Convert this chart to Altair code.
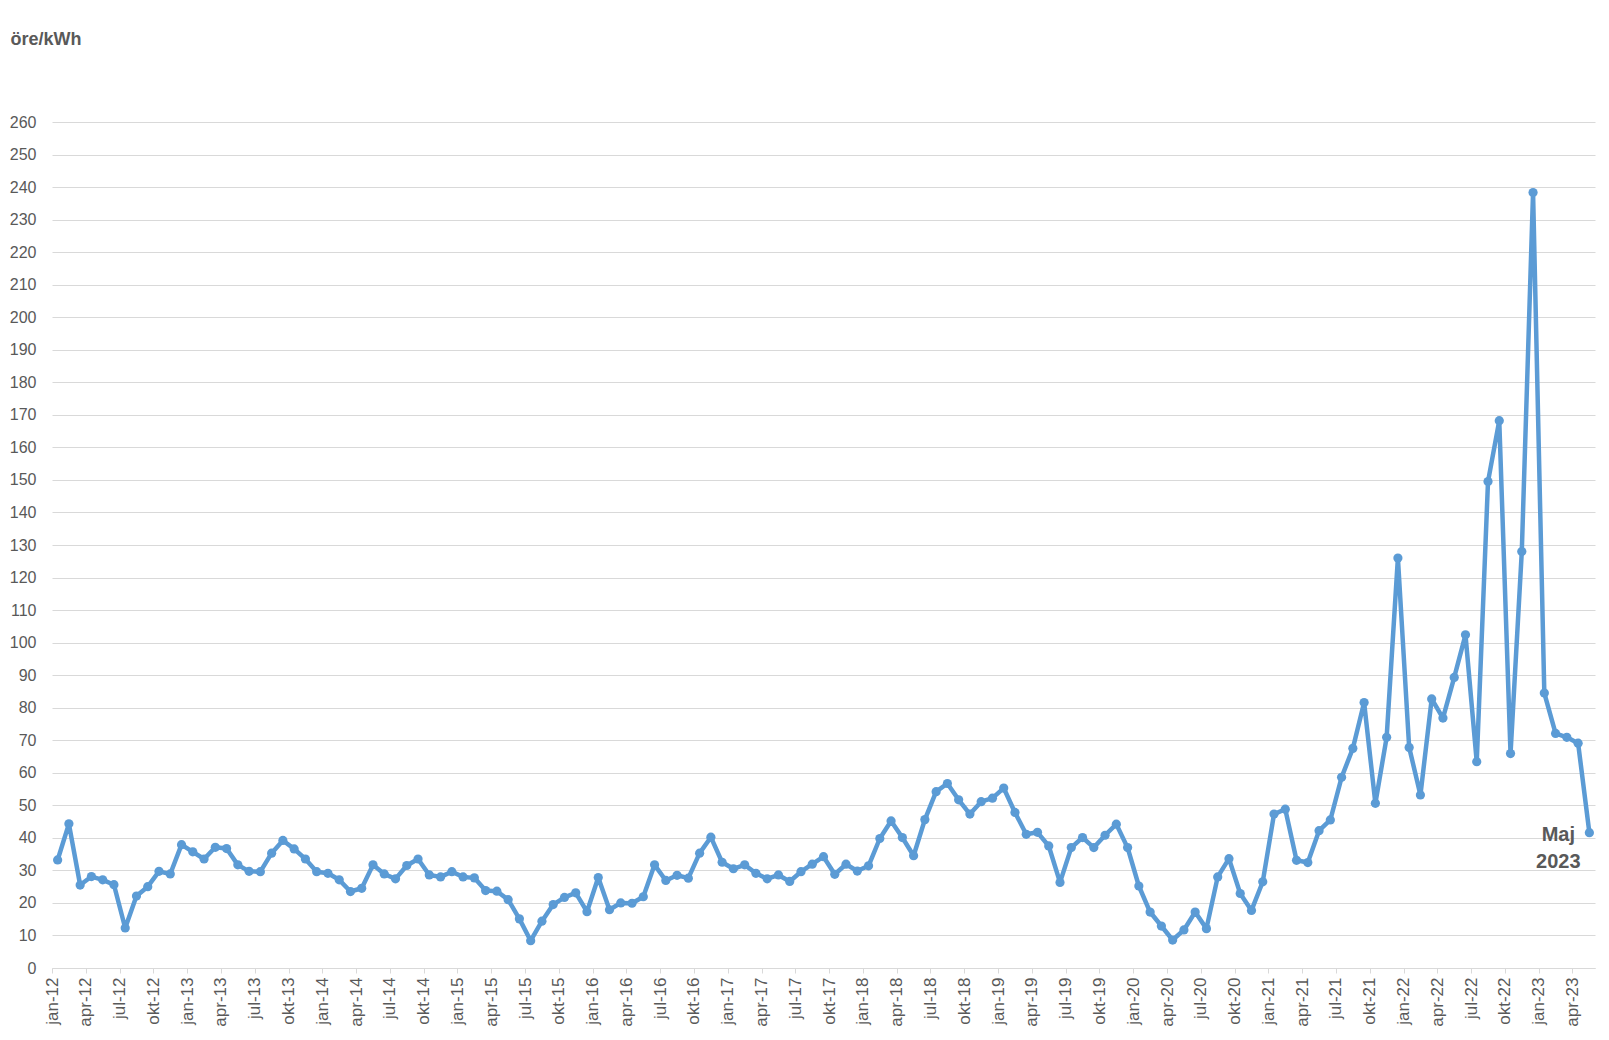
import json
import altair as alt
import pandas as pd

# Monthly price, öre/kWh, jan-2012 .. maj-2023
values = [
    # 2012
    33.2, 44.3, 25.5, 28.1, 27.1, 25.6, 12.3, 22.1, 25.0, 29.7, 28.9, 37.9,
    # 2013
    35.7, 33.5, 37.1, 36.7, 31.7, 29.7, 29.6, 35.3, 39.2, 36.6, 33.5, 29.6,
    # 2014
    29.1, 27.1, 23.5, 24.5, 31.7, 28.9, 27.4, 31.5, 33.5, 28.6, 28.0, 29.6,
    # 2015
    28.0, 27.7, 23.8, 23.6, 21.0, 15.1, 8.4, 14.4, 19.5, 21.7, 23.1, 17.3,
    # 2016
    27.8, 17.9, 20.0, 19.9, 21.9, 31.7, 26.9, 28.5, 27.6, 35.3, 40.2, 32.5,
    # 2017
    30.5, 31.7, 29.1, 27.4, 28.6, 26.6, 29.6, 31.9, 34.2, 28.8, 31.9, 29.8,
    # 2018
    31.4, 39.8, 45.2, 40.1, 34.5, 45.6, 54.2, 56.7, 51.7, 47.3, 51.1, 52.2,
    # 2019
    55.3, 47.8, 41.1, 41.7, 37.5, 26.3, 37.0, 40.1, 37.0, 40.8, 44.2, 37.0,
    # 2020
    25.2, 17.2, 12.9, 8.6, 11.7, 17.2, 12.1, 28.0, 33.6, 22.9, 17.7, 26.5,
    # 2021
    47.3, 48.8, 33.1, 32.4, 42.2, 45.5, 58.6, 67.5, 81.6, 50.6, 70.9, 126.0,
    # 2022
    67.8, 53.2, 82.7, 76.8, 89.3, 102.4, 63.4, 149.5, 168.2, 65.9, 128.0, 238.3,
    # 2023
    84.5, 72.1, 70.9, 69.1, 41.6,
]

tick_labels = [
    "jan-12", "apr-12", "jul-12", "okt-12",
    "jan-13", "apr-13", "jul-13", "okt-13",
    "jan-14", "apr-14", "jul-14", "okt-14",
    "jan-15", "apr-15", "jul-15", "okt-15",
    "jan-16", "apr-16", "jul-16", "okt-16",
    "jan-17", "apr-17", "jul-17", "okt-17",
    "jan-18", "apr-18", "jul-18", "okt-18",
    "jan-19", "apr-19", "jul-19", "okt-19",
    "jan-20", "apr-20", "jul-20", "okt-20",
    "jan-21", "apr-21", "jul-21", "okt-21",
    "jan-22", "apr-22", "jul-22", "okt-22",
    "jan-23", "apr-23",
]

y_ticks = list(range(0, 261, 10))
annotation_text = "Maj\n2023"

df = pd.DataFrame({"idx": list(range(len(values))), "value": values})
ann = df.iloc[[-1]].assign(label=annotation_text)

n = len(values)
tick_positions = [-0.5 + 3 * k for k in range(len(tick_labels))]
label_expr = json.dumps(tick_labels) + "[round((datum.value + 0.5) / 3)]"

GRAY_TXT = "#595959"
GRID = "#D9D9D9"
BLUE = "#5B9BD5"
FONT = "Liberation Sans"

x = alt.X(
    "idx:Q",
    scale=alt.Scale(domain=[-0.5, n - 0.5], nice=False, zero=False),
    axis=alt.Axis(
        values=tick_positions,
        tickCount=200,
        labelExpr=label_expr,
        labelAngle=270,
        labelAlign="right",
        labelBaseline="middle",
        labelPadding=4,
        labelFontSize=17,
        labelColor=GRAY_TXT,
        labelFont=FONT,
        labelOverlap=False,
        labelFlush=False,
        tickSize=5,
        tickColor=GRID,
        domainColor=GRID,
        grid=False,
        title=None,
    ),
)

y = alt.Y(
    "value:Q",
    scale=alt.Scale(domain=[0, 260], nice=False),
    axis=alt.Axis(
        values=y_ticks,
        tickCount=200,
        labelOverlap=False,
        labelFontSize=16,
        labelColor=GRAY_TXT,
        labelFont=FONT,
        labelPadding=16,
        ticks=False,
        tickSize=0,
        domain=False,
        gridColor=GRID,
        title="öre/kWh",
        titleAngle=0,
        titleAlign="left",
        titleBaseline="middle",
        titleX=-42,
        titleY=-83,
        titleFont=FONT,
        titleFontSize=18,
        titleFontWeight="bold",
        titleColor=GRAY_TXT,
    ),
)

line = alt.Chart(df).mark_line(
    color=BLUE,
    strokeWidth=4.5,
    strokeJoin="round",
    strokeCap="round",
    point=alt.OverlayMarkDef(filled=True, size=85, color=BLUE),
).encode(x=x, y=y)

text = alt.Chart(ann).mark_text(
    font=FONT,
    fontSize=20,
    fontWeight="bold",
    color=GRAY_TXT,
    lineBreak="\n",
    lineHeight=27,
    align="center",
    baseline="middle",
    dx=-31,
    dy=2,
).encode(x="idx:Q", y="value:Q", text="label:N")

chart = (
    alt.layer(line, text)
    .properties(
        width=1543,
        height=846,
        autosize=alt.AutoSizeParams(type="none"),
        padding={"left": 44, "top": 114, "right": 6, "bottom": 60},
        background="white",
    )
    .configure_view(stroke=None)
)

chart.save("out.html", embed_options={"renderer": "svg", "actions": False})
